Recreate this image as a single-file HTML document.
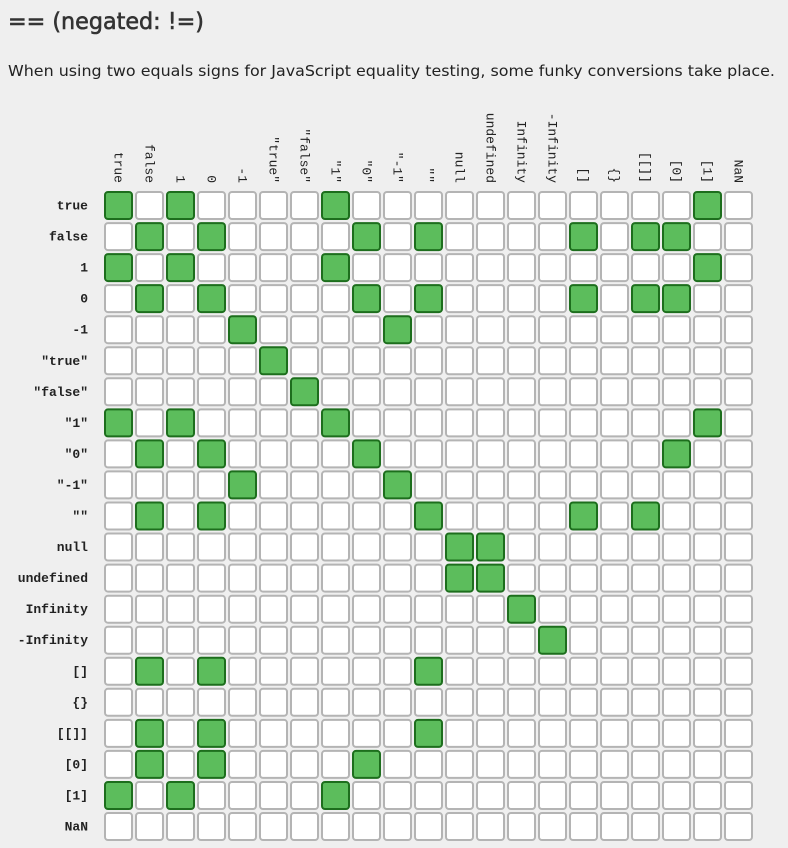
<!DOCTYPE html>
<html><head><meta charset="utf-8"><style>
html,body{margin:0;padding:0;background:#efefef;width:788px;height:848px;overflow:hidden}
</style></head><body>
<svg id="s" width="788" height="848" xmlns="http://www.w3.org/2000/svg">
<text x="8" y="29" font-family="DejaVu Sans, sans-serif" font-size="23" fill="#333" stroke="#333" stroke-width="0.6" textLength="196" lengthAdjust="spacingAndGlyphs">== (negated: !=)</text>
<text x="8" y="76" font-family="DejaVu Sans, sans-serif" font-size="15" fill="#222" textLength="767" lengthAdjust="spacingAndGlyphs">When using two equals signs for JavaScript equality testing, some funky conversions take place.</text>
</svg>
<script>
var L=["true","false","1","0","-1","\u2033true\u2033","\u2033false\u2033","\u20331\u2033","\u20330\u2033","\u2033-1\u2033","\u2033\u2033","null","undefined","Infinity","-Infinity","[]","{}","[[]]","[0]","[1]","NaN"];
var G=[[0,2,7,19],[1,3,8,10,15,17,18],[0,2,7,19],[1,3,8,10,15,17,18],[4,9],[5],[6],[0,2,7,19],[1,3,8,18],[4,9],[1,3,10,15,17],[11,12],[11,12],[13],[14],[1,3,10],[],[1,3,10],[1,3,8],[0,2,7],[]];
var s=document.getElementById('s'),h='';
var F='font-family="Liberation Mono, DejaVu Sans Mono, monospace" font-size="13" fill="#222"';
for(var i=0;i<21;i++){
 var cx=104+31*i+14.5,ry=191+31.05*i+14;
 h+='<text '+F+' transform="translate('+(cx-4)+',183) rotate(90)" text-anchor="end">'+L[i]+'</text>';
 h+='<text '+F+' font-weight="bold" x="88" y="'+(ry+4.5)+'" text-anchor="end">'+L[i]+'</text>';
 for(var j=0;j<21;j++){
  var g=G[i].indexOf(j)>=0;
  h+='<rect x="'+(105+31*j)+'" y="'+(192+31.05*i).toFixed(1)+'" width="27" height="27" rx="3" fill="'+(g?'#5cbd5c':'#fff')+'" stroke="'+(g?'#1d6e1d':'#b4b4b4')+'" stroke-width="2"/>';
 }
}
s.insertAdjacentHTML('beforeend',h);
</script>
</body></html>
